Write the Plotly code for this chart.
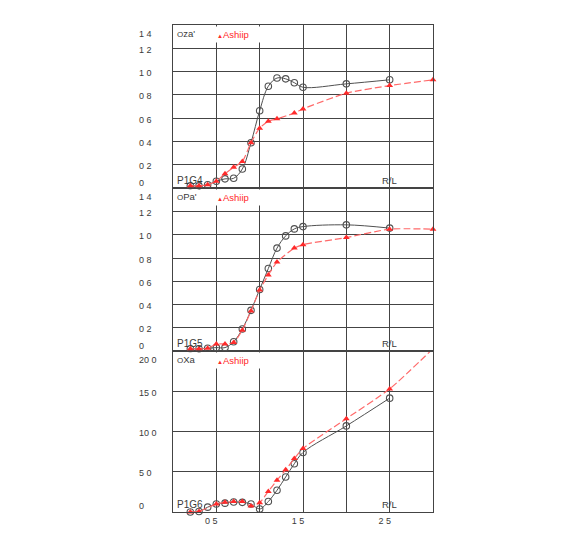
import plotly.graph_objects as go

# ---------------- data ----------------
x_black = [0.2, 0.3, 0.4, 0.5, 0.6, 0.7, 0.8, 0.9, 1.0, 1.1, 1.2, 1.3, 1.4, 1.5, 2.0, 2.5]

za_black = [0.02, 0.02, 0.03, 0.06, 0.08, 0.085, 0.165, 0.39, 0.665, 0.875, 0.945, 0.938, 0.905, 0.866, 0.895, 0.93]
x_red_za = [0.2, 0.3, 0.4, 0.5, 0.6, 0.7, 0.8, 0.9, 1.0, 1.1, 1.2, 1.4, 1.5, 2.0, 2.5, 3.0]
za_red = [0.02, 0.02, 0.03, 0.06, 0.125, 0.18, 0.23, 0.39, 0.515, 0.575, 0.595, 0.645, 0.68, 0.815, 0.88, 0.93]

pa_black = [0.02, 0.02, 0.025, 0.03, 0.03, 0.08, 0.19, 0.35, 0.53, 0.71, 0.885, 0.99, 1.05, 1.07, 1.085, 1.057]
x_red_pa = [0.2, 0.3, 0.4, 0.5, 0.6, 0.7, 0.8, 0.9, 1.0, 1.1, 1.2, 1.4, 1.5, 2.0, 2.5, 3.0]
pa_red = [0.02, 0.02, 0.025, 0.06, 0.062, 0.074, 0.18, 0.345, 0.525, 0.655, 0.765, 0.885, 0.915, 0.976, 1.048, 1.048]

xa_black = [0.0, 0.07, 0.6, 1.0, 1.1, 1.24, 1.2, 1.0, 0.37, 1.3, 2.7, 4.35, 6.0, 7.4, 10.7, 14.15]
x_red_xa = [0.2, 0.3, 0.5, 0.6, 0.7, 0.8, 0.9, 1.0, 1.1, 1.2, 1.3, 1.4, 1.5, 2.0, 2.5, 3.0]
xa_red = [0.0, 0.07, 1.0, 1.2, 1.3, 1.3, 0.75, 1.15, 2.56, 3.95, 5.25, 6.65, 7.9, 11.6, 15.3, 20.3]

x_tickvals = [0.5, 1.0, 1.5, 2.0, 2.5]
x_ticktext = ["0 5", "", "1 5", "", "2 5"]

y_ticks_12 = [0, 0.2, 0.4, 0.6, 0.8, 1.0, 1.2, 1.4]
y_labels_12 = ["0", "0 2", "0 4", "0 6", "0 8", "1 0", "1 2", "1 4"]
y_ticks_3 = [0, 5, 10, 15, 20]
y_labels_3 = ["0", "5 0", "10 0", "15 0", "20 0"]

panels = [
    # (y axis id, black values, red x, red values, series name, panel label, ticks, labels)
    ("y3", za_black, x_red_za, za_red, "za'", "P1G4", y_ticks_12, y_labels_12),
    ("y2", pa_black, x_red_pa, pa_red, "Pa'", "P1G5", y_ticks_12, y_labels_12),
    ("y", xa_black, x_red_xa, xa_red, "Xa", "P1G6", y_ticks_3, y_labels_3),
]

# ---------------- styling ----------------
GRID = "#444444"
TXT = "#3a3a3a"
RED = "#ff2a2a"
RED_LINE = "#ff6a6a"
BLK = "#505050"
FONT = "Arial, Liberation Sans, DejaVu Sans, sans-serif"

fig = go.Figure()

xref_for = {"y3": "x3", "y2": "x2", "y": "x"}

for yid, blk, xr, red, name, plabel, ticks, labels in panels:
    xid = xref_for[yid]
    fig.add_trace(go.Scatter(
        x=x_black, y=blk, xaxis=xid, yaxis=yid, mode="lines+markers",
        line=dict(color=BLK, width=1, shape="spline", smoothing=1.0),
        marker=dict(symbol="circle-open", size=6.5, color=BLK, line=dict(width=1.1)),
        cliponaxis=False, showlegend=False, name=name))
    fig.add_trace(go.Scatter(
        x=xr, y=red, xaxis=xid, yaxis=yid, mode="lines+markers",
        line=dict(color=RED_LINE, width=1.2, dash="7px,3px", shape="spline", smoothing=0.6),
        marker=dict(symbol="triangle-up", size=6, color=RED),
        cliponaxis=False, showlegend=False, name="Ashiip"))

# page offset of 8px (default body margin) compensated
OFF = 8
W, H = 554, 534
ml = 173.3 - OFF
mt = 25 - OFF
mr = W - (433.3 - OFF)
mb = H - (512.3 - OFF)
pw = W - ml - mr
ph = H - mt - mb
d1 = 161.0 / ph
d2 = d1 + 163.0 / ph

axis_common = dict(showline=True, mirror=True, linecolor=GRID, linewidth=1.2,
                   showgrid=True, gridcolor=GRID, gridwidth=1.2, zeroline=False,
                   ticks="", fixedrange=True)

layout = dict(
    width=W, height=H, paper_bgcolor="white", plot_bgcolor="white",
    margin=dict(l=ml, r=mr, t=mt, b=mb, pad=0),
    font=dict(family=FONT, size=9, color=TXT),
    xaxis=dict(range=[0, 3], tickvals=x_tickvals, ticktext=x_ticktext, anchor="y",
               ticklabelshift=-5, tickfont=dict(size=9, color=TXT), **axis_common),
    xaxis2=dict(range=[0, 3], tickvals=x_tickvals, showticklabels=False, anchor="y2", **axis_common),
    xaxis3=dict(range=[0, 3], tickvals=x_tickvals, showticklabels=False, anchor="y3", **axis_common),
    yaxis=dict(range=[0, 20], tickvals=y_ticks_3, showticklabels=False, domain=[0, d1], anchor="x", **axis_common),
    yaxis2=dict(range=[0, 1.4], tickvals=y_ticks_12, showticklabels=False, domain=[d1, d2], anchor="x2", **axis_common),
    yaxis3=dict(range=[0, 1.4], tickvals=y_ticks_12, showticklabels=False, domain=[d2, 1], anchor="x3", **axis_common),
)
fig.update_layout(**layout)

ann = []
lab_x = (137 - OFF - ml) / pw
for yid, blk, xr, red, name, plabel, ticks, labels in panels:
    n = len(ticks)
    for i, (t, lab) in enumerate(zip(ticks, labels)):
        if i == 0:
            ys = 5.5
        elif i == n - 1:
            ys = -8.5
        else:
            ys = -1.5
        ann.append(dict(x=lab_x, y=t, xref="paper", yref=yid, text=lab, showarrow=False,
                        xanchor="left", yanchor="middle", yshift=ys,
                        font=dict(size=9, color=TXT, family=FONT)))
    top = ticks[-1]
    # legend-like labels
    ann.append(dict(x=(175.5 - OFF - ml) / pw, y=top, xref="paper", yref=yid,
                    text="<span style='font-size:8px'>O</span>" + name, showarrow=False,
                    xanchor="left", yanchor="top",
                    yshift=-1, bgcolor="white", font=dict(size=9.5, color=TXT, family=FONT)))
    ann.append(dict(x=(215.5 - OFF - ml) / pw, y=top, xref="paper", yref=yid,
                    text="<span style='font-size:6px'>▲</span>Ashiip", showarrow=False,
                    xanchor="left", yanchor="top", yshift=-1, width=45, height=13, align="left",
                    bgcolor="white", font=dict(size=9.5, color=RED, family=FONT)))
    # panel label and axis name
    ann.append(dict(x=(175.5 - OFF - ml) / pw, y=0, xref="paper", yref=yid, text=plabel,
                    showarrow=False, xanchor="left", yanchor="bottom", yshift=0,
                    font=dict(size=10, color=TXT, family=FONT)))
    ann.append(dict(x=(380 - OFF - ml) / pw, y=0, xref="paper", yref=yid, text="R/L",
                    showarrow=False, xanchor="left", yanchor="bottom", yshift=0,
                    font=dict(size=9.5, color=TXT, family=FONT)))

fig.update_layout(annotations=ann)
fig.write_html("out.html")
